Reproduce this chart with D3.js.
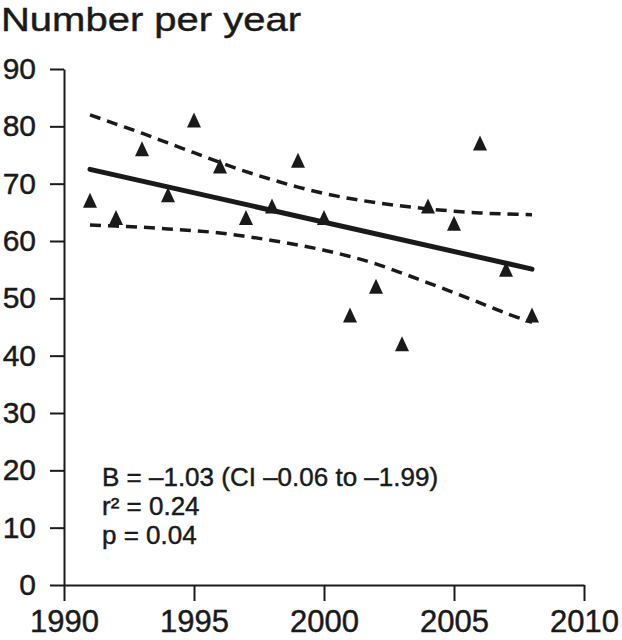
<!DOCTYPE html>
<html>
<head>
<meta charset="utf-8">
<script src="https://cdn.jsdelivr.net/npm/d3@7"></script>
<style>
  html, body { margin: 0; padding: 0; background: #fff; }
  svg { display: block; }
  text { font-family: "Liberation Sans", Arial, Helvetica, sans-serif; fill: #1a1a1a; stroke: #1a1a1a; stroke-width: 0.45px; }
</style>
</head>
<body>
<svg id="chart" width="622" height="640"></svg>
<script>
// ---- data ----
const years  = [1991, 1992, 1993, 1994, 1995, 1996, 1997, 1998, 1999, 2000, 2001, 2002, 2003, 2004, 2005, 2006, 2007, 2008];
const counts = [67, 64, 76, 68, 81, 73, 64, 66, 74, 64, 47, 52, 42, 66, 63, 77, 55, 47];
const upperCI = [82.0, 80.4, 78.8, 77.1, 75.4, 73.7, 72.1, 70.7, 69.4, 68.3, 67.4, 66.7, 66.1, 65.6, 65.2, 64.9, 64.7, 64.6];
const lowerCI = [62.8, 62.6, 62.4, 62.1, 61.8, 61.4, 60.8, 60.1, 59.3, 58.4, 57.3, 56.0, 54.4, 52.7, 51.0, 49.2, 47.4, 45.8];
const fitYears  = [1991, 2008];
const fitValues = [72.5, 55.1];
const xTicks = [1990, 1995, 2000, 2005, 2010];
const yTicks = [0, 10, 20, 30, 40, 50, 60, 70, 80, 90];
const titleText = "Number per year";
const statLines = ["B = \u20131.03 (CI \u20130.06 to \u20131.99)", "r\u00B2 = 0.24", "p = 0.04"];

// ---- layout ----
const svg = d3.select("#chart");
const ink = "#1a1a1a";
const x = d3.scaleLinear().domain([1990, 2010]).range([64, 584]);
const y = d3.scaleLinear().domain([0, 90]).range([585, 69]);

// title
svg.append("text")
  .attr("x", 1).attr("y", 31)
  .attr("font-size", 34)
  .attr("textLength", 300)
  .attr("lengthAdjust", "spacingAndGlyphs")
  .text(titleText);

// y axis
const yAxis = svg.append("g")
  .attr("transform", `translate(${x(1990)},0)`)
  .call(d3.axisLeft(y).tickValues(yTicks).tickSize(14).tickPadding(14).tickSizeOuter(0));
yAxis.select(".domain").attr("stroke", ink).attr("stroke-width", 2);
yAxis.selectAll(".tick line").attr("stroke", ink).attr("stroke-width", 2);
yAxis.selectAll(".tick text")
  .attr("font-size", 30).attr("fill", ink)
  .attr("font-family", "Liberation Sans, Arial, sans-serif");

// x axis
const xAxis = svg.append("g")
  .attr("transform", `translate(0,${y(0)})`)
  .call(d3.axisBottom(x).tickValues(xTicks).tickFormat(d3.format("d")).tickSize(16).tickPadding(9).tickSizeOuter(0));
xAxis.select(".domain").attr("stroke", ink).attr("stroke-width", 2);
xAxis.selectAll(".tick line").attr("stroke", ink).attr("stroke-width", 2);
xAxis.selectAll(".tick text")
  .attr("font-size", 31).attr("fill", ink)
  .attr("font-family", "Liberation Sans, Arial, sans-serif");

// CI lines
const ciLine = d3.line().x((d, i) => x(years[i])).y(d => y(d)).curve(d3.curveCatmullRom);
[upperCI, lowerCI].forEach(arr => {
  svg.append("path")
    .attr("d", ciLine(arr))
    .attr("fill", "none")
    .attr("stroke", ink)
    .attr("stroke-width", 3.5)
    .attr("stroke-dasharray", "11,7");
});

// regression line
svg.append("path")
  .attr("d", d3.line().x((d, i) => x(fitYears[i])).y(d => y(d))(fitValues))
  .attr("fill", "none")
  .attr("stroke", ink)
  .attr("stroke-width", 5)
  .attr("stroke-linecap", "round");

// triangles
const tri = "M0,-8L7,7L-7,7Z";
svg.append("g").selectAll("path")
  .data(counts)
  .join("path")
  .attr("d", tri)
  .attr("transform", (d, i) => `translate(${x(years[i])},${y(d)})`)
  .attr("fill", ink);

// stats text
svg.append("g").selectAll("text")
  .data(statLines)
  .join("text")
  .attr("x", 102)
  .attr("y", (d, i) => 486 + i * 29)
  .attr("font-size", 26)
  .text(d => d);
</script>
</body>
</html>
